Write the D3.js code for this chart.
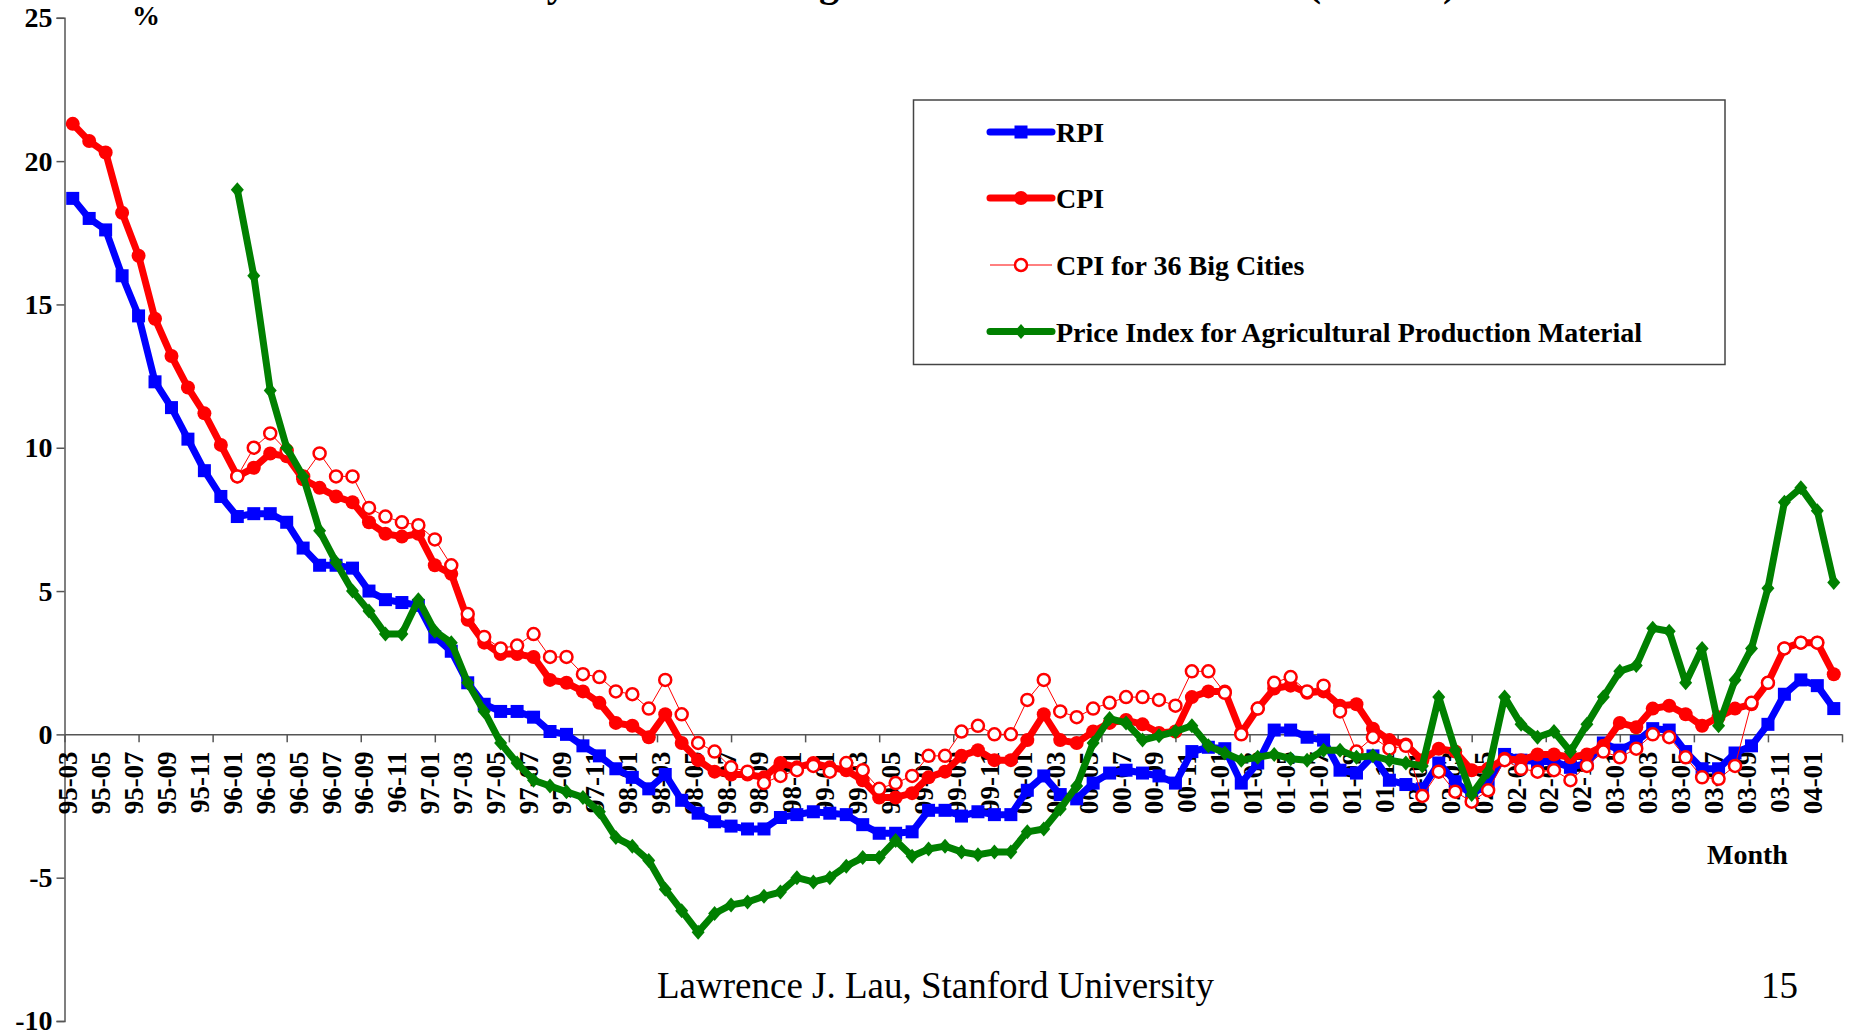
<!DOCTYPE html>
<html lang="en">
  <head>
    <meta charset="utf-8"/>
    <title>Price Indices in China</title>
    <script src="https://d3js.org/d3.v7.min.js"></script>
    <style>
      body { margin: 0; background: #fff; }
      svg { display: block; font-family: "Liberation Serif", "Times New Roman", serif; }
    </style>
  </head>
  <body>
    <div id="chart"></div>
    <script>
    // categories: 95-03 .. 04-02, one per month
    var months = [];
    for (var k = 0; k < 108; k++) {
      var yr = (95 + Math.floor((k + 2) / 12)) % 100;
      var mo = (k + 2) % 12 + 1;
      months.push((yr < 10 ? "0" : "") + yr + "-" + (mo < 10 ? "0" : "") + mo);
    }

    var yTicks = [-10, -5, 0, 5, 10, 15, 20, 25];

    var rpi = [18.7, 18.0, 17.6, 16.0, 14.6, 12.3, 11.4, 10.3, 9.2, 8.3,
      7.6, 7.7, 7.7, 7.4, 6.5, 5.9, 5.9, 5.8, 5.0, 4.7, 4.6, 4.5,
      3.4, 2.9, 1.8, 1.05, 0.8, 0.8, 0.6, 0.1, 0.0, -0.4, -0.75, -1.2,
      -1.5, -1.9, -1.4, -2.3, -2.75, -3.05, -3.2, -3.3, -3.3, -2.9, -2.8, -2.7,
      -2.75, -2.8, -3.15, -3.45, -3.45, -3.4, -2.65, -2.65, -2.85, -2.7, -2.8, -2.8,
      -1.95, -1.45, -2.1, -2.25, -1.7, -1.35, -1.25, -1.35, -1.45, -1.7, -0.6, -0.45,
      -0.5, -1.7, -1.0, 0.15, 0.15, -0.1, -0.2, -1.25, -1.35, -0.75, -1.6, -1.75,
      -1.9, -1.0, -1.65, -2.1, -1.7, -0.7, -0.9, -0.95, -0.95, -1.15, -1.0, -0.3,
      -0.55, -0.25, 0.2, 0.15, -0.6, -1.2, -1.2, -0.65, -0.4, 0.35, 1.4, 1.9,
      1.7, 0.9];

    var cpi = [21.3, 20.7, 20.3, 18.2, 16.7, 14.5, 13.2, 12.1, 11.2, 10.1,
      9.0, 9.3, 9.8, 9.7, 8.9, 8.6, 8.3, 8.1, 7.4, 7.0, 6.9, 7.0,
      5.9, 5.6, 4.0, 3.2, 2.8, 2.8, 2.7, 1.9, 1.8, 1.5, 1.1, 0.4,
      0.3, -0.1, 0.7, -0.3, -0.9, -1.3, -1.4, -1.4, -1.5, -1.0, -1.15, -1.0,
      -1.15, -1.25, -1.6, -2.2, -2.2, -2.05, -1.5, -1.3, -0.75, -0.55, -0.9, -0.9,
      -0.2, 0.7, -0.2, -0.3, 0.1, 0.4, 0.5, 0.35, 0.05, 0.1, 1.3, 1.5,
      1.5, 0.05, 0.9, 1.6, 1.7, 1.45, 1.5, 1.0, 1.05, 0.2, -0.2, -0.35,
      -0.9, -0.5, -0.6, -1.25, -1.2, -0.85, -0.9, -0.7, -0.7, -0.8, -0.7, -0.4,
      0.4, 0.25, 0.9, 1.0, 0.7, 0.3, 0.6, 0.9, 1.05, 1.8, 3.0, 3.2,
      3.2, 2.1];

    var cpi36 = [null, null, null, null, null, null, null, null, null, null,
      9.0, 10.0, 10.5, 9.9, 9.0, 9.8, 9.0, 9.0, 7.9, 7.6, 7.4, 7.3,
      6.8, 5.9, 4.2, 3.4, 3.0, 3.1, 3.5, 2.7, 2.7, 2.1, 2.0, 1.5,
      1.4, 0.9, 1.9, 0.7, -0.3, -0.6, -1.15, -1.3, -1.7, -1.45, -1.25, -1.1,
      -1.3, -1.0, -1.25, -1.9, -1.7, -1.45, -0.75, -0.75, 0.1, 0.3, 0.0, 0.0,
      1.2, 1.9, 0.8, 0.6, 0.9, 1.1, 1.3, 1.3, 1.2, 1.0, 2.2, 2.2,
      1.45, 0.0, 0.9, 1.8, 2.0, 1.5, 1.7, 0.8, -0.6, -0.1, -0.5, -0.4,
      -2.15, -1.3, -2.0, -2.35, -1.95, -0.9, -1.2, -1.3, -1.25, -1.6, -1.1, -0.6,
      -0.8, -0.5, 0.0, -0.1, -0.8, -1.5, -1.55, -1.1, 1.1, 1.8, 3.0, 3.2,
      3.2, null];

    var agri = [null, null, null, null, null, null, null, null, null, null,
      19.0, 16.0, 12.0, 10.0, 9.0, 7.1, 6.0, 5.0, 4.3, 3.5, 3.5, 4.7,
      3.6, 3.2, 1.8, 0.8, -0.3, -1.0, -1.6, -1.8, -2.0, -2.2, -2.7, -3.6,
      -3.9, -4.4, -5.4, -6.15, -6.9, -6.25, -5.95, -5.85, -5.65, -5.5, -5.0, -5.15,
      -5.0, -4.6, -4.3, -4.3, -3.7, -4.25, -4.0, -3.9, -4.1, -4.2, -4.1, -4.1,
      -3.4, -3.3, -2.6, -1.8, -0.3, 0.55, 0.4, -0.2, -0.05, 0.1, 0.3, -0.4,
      -0.65, -0.9, -0.8, -0.7, -0.85, -0.9, -0.55, -0.55, -0.8, -0.75, -0.9, -1.0,
      -1.1, 1.3, -0.55, -2.1, -1.3, 1.3, 0.35, -0.1, 0.1, -0.6, 0.35, 1.3,
      2.2, 2.4, 3.7, 3.6, 1.8, 3.0, 0.3, 1.9, 3.0, 5.1, 8.1, 8.6,
      7.8, 5.3];

    var seriesNames = ["RPI", "CPI", "CPI for 36 Big Cities", "Price Index for Agricultural Production Material"];

    var W = 1850, H = 1031;
    var plotLeft = 64.5, plotRight = 1842, plotTop = 17.8, plotBottom = 1021;

    var svg = d3.select("#chart").append("svg")
        .attr("width", W)
        .attr("height", H);

    svg.append("rect").attr("width", W).attr("height", H).attr("fill", "#fff");

    var x = d3.scaleBand().domain(months).range([plotLeft, plotRight]).padding(0);
    var y = d3.scaleLinear().domain([-10, 25]).range([plotBottom, plotTop]);
    var cx = function(i) { return x(months[i]) + x.bandwidth() / 2; };

    // title, mostly above the top edge of the slide
    svg.append("text")
        .attr("x", 420)
        .attr("y", -4)
        .attr("font-size", 40)
        .attr("font-weight", "bold")
        .text("Monthly Rates of Change of Price Indexes in China (% YoY)");

    // y axis
    var yAxis = svg.append("g")
        .attr("transform", "translate(" + plotLeft + ",0)")
        .call(d3.axisLeft(y).tickValues(yTicks).tickSize(8).tickPadding(4)
              .tickFormat(function(d) { return String(d); }));
    yAxis.selectAll("text").attr("font-size", 28).attr("font-weight", "bold")
        .attr("font-family", "Liberation Serif").attr("fill", "#000");
    yAxis.selectAll("line, path").attr("stroke", "#555").attr("stroke-width", 1.5);

    // x axis along zero: 24 tick intervals, labels every second month
    var tickPos = d3.scaleLinear().domain([0, 24]).range([plotLeft, plotRight]);
    var xAxis = svg.append("g")
        .attr("transform", "translate(0," + y(0) + ")")
        .call(d3.axisBottom(tickPos).ticks(24).tickSize(8).tickSizeOuter(0).tickFormat(""));
    xAxis.selectAll("line, path").attr("stroke", "#555").attr("stroke-width", 1.5);

    svg.append("g").selectAll("text")
        .data(months.filter(function(m, i) { return i % 2 == 0; }))
        .join("text")
        .attr("transform", function(m) {
          return "translate(" + (x(m) + x.bandwidth() / 2 - 5) + "," + (y(0) + 17) + ") rotate(-90)";
        })
        .attr("text-anchor", "end")
        .attr("dy", "0.35em")
        .attr("font-size", 27)
        .attr("font-weight", "bold")
        .text(function(m) { return m; });

    svg.append("text").attr("x", 132).attr("y", 25)
        .attr("font-size", 28).attr("font-weight", "bold").text("%");
    svg.append("text").attr("x", 1707).attr("y", 864)
        .attr("font-size", 28).attr("font-weight", "bold").text("Month");

    // series
    function lineFor(values) {
      return d3.line()
        .defined(function(d) { return d != null; })
        .x(function(d, i) { return cx(i); })
        .y(function(d) { return y(d); })(values);
    }
    function pts(values) {
      return values.map(function(v, i) { return {i: i, v: v}; })
                   .filter(function(d) { return d.v != null; });
    }

    var diamond = "M0,-7.5L6.5,0L0,7.5L-6.5,0Z";

    // RPI
    svg.append("path").attr("d", lineFor(rpi)).attr("fill", "none")
        .attr("stroke", "#0000ff").attr("stroke-width", 7).attr("stroke-linejoin", "round");
    svg.append("g").selectAll("rect").data(pts(rpi)).join("rect")
        .attr("x", function(d) { return cx(d.i) - 6.5; })
        .attr("y", function(d) { return y(d.v) - 6.5; })
        .attr("width", 13).attr("height", 13).attr("fill", "#0000ff");

    // CPI
    svg.append("path").attr("d", lineFor(cpi)).attr("fill", "none")
        .attr("stroke", "#ff0000").attr("stroke-width", 7).attr("stroke-linejoin", "round");
    svg.append("g").selectAll("circle").data(pts(cpi)).join("circle")
        .attr("cx", function(d) { return cx(d.i); })
        .attr("cy", function(d) { return y(d.v); })
        .attr("r", 7).attr("fill", "#ff0000");

    // CPI for 36 big cities
    svg.append("path").attr("d", lineFor(cpi36)).attr("fill", "none")
        .attr("stroke", "#ff0000").attr("stroke-width", 1);
    svg.append("g").selectAll("circle").data(pts(cpi36)).join("circle")
        .attr("cx", function(d) { return cx(d.i); })
        .attr("cy", function(d) { return y(d.v); })
        .attr("r", 6).attr("fill", "#fff").attr("stroke", "#ff0000").attr("stroke-width", 2.5);

    // agricultural production material
    svg.append("path").attr("d", lineFor(agri)).attr("fill", "none")
        .attr("stroke", "#008000").attr("stroke-width", 7).attr("stroke-linejoin", "round");
    svg.append("g").selectAll("path").data(pts(agri)).join("path")
        .attr("d", diamond)
        .attr("transform", function(d) { return "translate(" + cx(d.i) + "," + y(d.v) + ")"; })
        .attr("fill", "#008000");

    // legend
    var legend = svg.append("g");
    legend.append("rect").attr("x", 913.5).attr("y", 100).attr("width", 811.5).attr("height", 264.5)
        .attr("fill", "#fff").attr("stroke", "#444").attr("stroke-width", 1.5);
    var rowY = [132, 198, 265, 331.5];
    var lx0 = 990, lx1 = 1052, lmx = 1021;

    legend.append("line").attr("x1", lx0).attr("x2", lx1).attr("y1", rowY[0]).attr("y2", rowY[0])
        .attr("stroke", "#0000ff").attr("stroke-width", 7).attr("stroke-linecap", "round");
    legend.append("rect").attr("x", lmx - 6.5).attr("y", rowY[0] - 6.5).attr("width", 13).attr("height", 13).attr("fill", "#0000ff");

    legend.append("line").attr("x1", lx0).attr("x2", lx1).attr("y1", rowY[1]).attr("y2", rowY[1])
        .attr("stroke", "#ff0000").attr("stroke-width", 7).attr("stroke-linecap", "round");
    legend.append("circle").attr("cx", lmx).attr("cy", rowY[1]).attr("r", 7).attr("fill", "#ff0000");

    legend.append("line").attr("x1", lx0).attr("x2", lx1).attr("y1", rowY[2]).attr("y2", rowY[2])
        .attr("stroke", "#ff0000").attr("stroke-width", 1);
    legend.append("circle").attr("cx", lmx).attr("cy", rowY[2]).attr("r", 6)
        .attr("fill", "#fff").attr("stroke", "#ff0000").attr("stroke-width", 2.5);

    legend.append("line").attr("x1", lx0).attr("x2", lx1).attr("y1", rowY[3]).attr("y2", rowY[3])
        .attr("stroke", "#008000").attr("stroke-width", 7).attr("stroke-linecap", "round");
    legend.append("path").attr("d", diamond).attr("transform", "translate(" + lmx + "," + rowY[3] + ")").attr("fill", "#008000");

    legend.selectAll("text.lbl").data(seriesNames).join("text")
        .attr("class", "lbl")
        .attr("x", 1056)
        .attr("y", function(d, i) { return rowY[i] + 10; })
        .attr("font-size", 28)
        .attr("font-weight", "bold")
        .text(function(d) { return d; });

    // footer
    svg.append("text").attr("x", 657).attr("y", 998).attr("font-size", 37)
        .text("Lawrence J. Lau, Stanford University");
    svg.append("text").attr("x", 1761).attr("y", 998).attr("font-size", 37).text("15");
    </script>
  </body>
</html>
